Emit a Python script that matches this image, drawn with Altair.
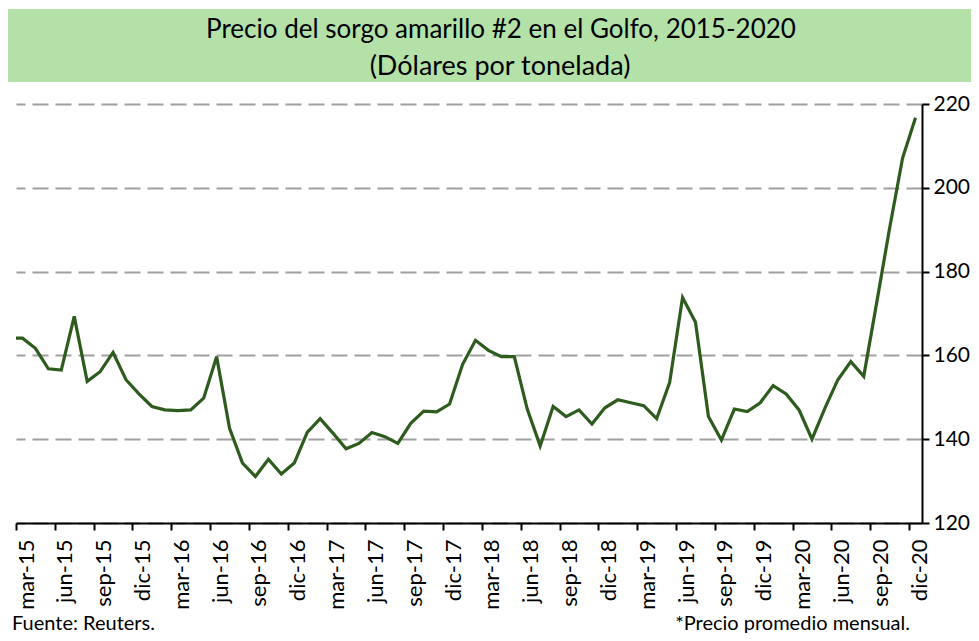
import json
import altair as alt
import pandas as pd

# ---- data (monthly average price, USD per tonne) ----
# first value is feb-15 (only its segment towards mar-15 is visible; clipped at the axis start)
meses = pd.date_range("2015-02-01", "2020-12-01", freq="MS")
precios = [
    164.1,                                                            # feb-15
    164.1, 161.7, 156.8, 156.5, 169.3, 153.8, 156.1, 160.7, 154.2, 150.8,   # mar-dic 15
    147.8, 147.0, 146.8, 147.0, 149.8, 159.7, 142.6, 134.3, 131.1, 135.2, 131.7, 134.3,  # 2016
    141.6, 144.9, 141.4, 137.7, 139.0, 141.6, 140.6, 139.0, 143.8, 146.7, 146.5, 148.4,  # 2017
    157.8, 163.6, 161.2, 159.7, 159.7, 147.2, 138.4, 147.8, 145.4, 147.0, 143.6, 147.5,  # 2018
    149.4, 148.7, 148.0, 144.9, 153.5, 173.8, 167.9, 145.4, 139.8, 147.2, 146.6, 148.7,  # 2019
    152.8, 150.8, 147.0, 140.0, 147.4, 154.2, 158.5, 155.0, 172.6, 190.4, 207.1, 216.7,  # 2020
]
etiquetas = [f"{m}-{a}" for a in range(15, 21) for m in ["mar", "jun", "sep", "dic"]]
y_ticks = [120, 140, 160, 180, 200, 220]

titulo = "Precio del sorgo amarillo #2 en el Golfo, 2015-2020"
subtitulo = "(Dólares por tonelada)"
fuente = "Fuente: Reuters."
nota = "*Precio promedio mensual."

# month position measured from the start of mar-15, points at mid-month
df = pd.DataFrame({
    "mes": [d.strftime("%Y-%m") for d in meses],
    "m": [(d.year - 2015) * 12 + d.month - 3 + 0.5 for d in meses],
    "precio": precios,
})

W, H = 906, 419
FONT = "Lato"
GREEN_LINE = "#2e5b1e"
BAND = "#b3e1a8"

label_expr = json.dumps(etiquetas) + "[round(datum.value / 3)]"

line = alt.Chart(df).mark_line(color=GREEN_LINE, strokeWidth=3.2, clip=True).encode(
    x=alt.X(
        "m:Q",
        scale=alt.Scale(domain=[0, 70], nice=False, zero=False),
        axis=alt.Axis(
            values=list(range(0, 70, 3)), labelExpr=label_expr, labelAngle=270,
            labelBaseline="top", labelAlign="right",
            title=None, grid=False, tickSize=7, tickColor="black", tickWidth=2,
            domainColor="black", domainWidth=2, labelFont=FONT, labelFontSize=22,
            labelColor="black", labelPadding=9, labelOverlap=False, labelFlush=False,
        ),
    ),
    y=alt.Y(
        "precio:Q",
        scale=alt.Scale(domain=[120, 220], nice=False, zero=False),
        axis=alt.Axis(
            orient="right", values=y_ticks, title=None, grid=True,
            gridDash=[16, 7], gridColor="#a0a0a0", gridWidth=2,
            tickSize=7, tickColor="black", tickWidth=2,
            domainColor="black", domainWidth=2, labelFont=FONT, labelFontSize=21,
            labelColor="black", labelPadding=4, labelOverlap=False, labelFlush=False,
        ),
    ),
)

one = pd.DataFrame({"k": [0]})
band = alt.Chart(one).mark_rect(color=BAND).encode(
    x=alt.value(-8), x2=alt.value(W + 49), y=alt.value(-95), y2=alt.value(-22)
)
t1 = alt.Chart(one).mark_text(font=FONT, fontSize=26, color="black", text=titulo).encode(
    x=alt.value(485), y=alt.value(-74)
)
t2 = alt.Chart(one).mark_text(font=FONT, fontSize=27, color="black", text=subtitulo).encode(
    x=alt.value(484), y=alt.value(-37)
)
f1 = alt.Chart(one).mark_text(font=FONT, fontSize=20, color="black", text=fuente, align="left").encode(
    x=alt.value(-4), y=alt.value(520)
)
f2 = alt.Chart(one).mark_text(font=FONT, fontSize=20, color="black", text=nota, align="right").encode(
    x=alt.value(894), y=alt.value(520)
)

chart = alt.layer(band, t1, t2, line, f1, f2).properties(
    width=W, height=H,
    autosize=alt.AutoSizeParams(type="none"),
    padding={"left": 8, "top": 96, "right": 49, "bottom": 110},
).configure_view(stroke=None)

chart.save("out.html", embed_options={"renderer": "svg", "actions": False})
